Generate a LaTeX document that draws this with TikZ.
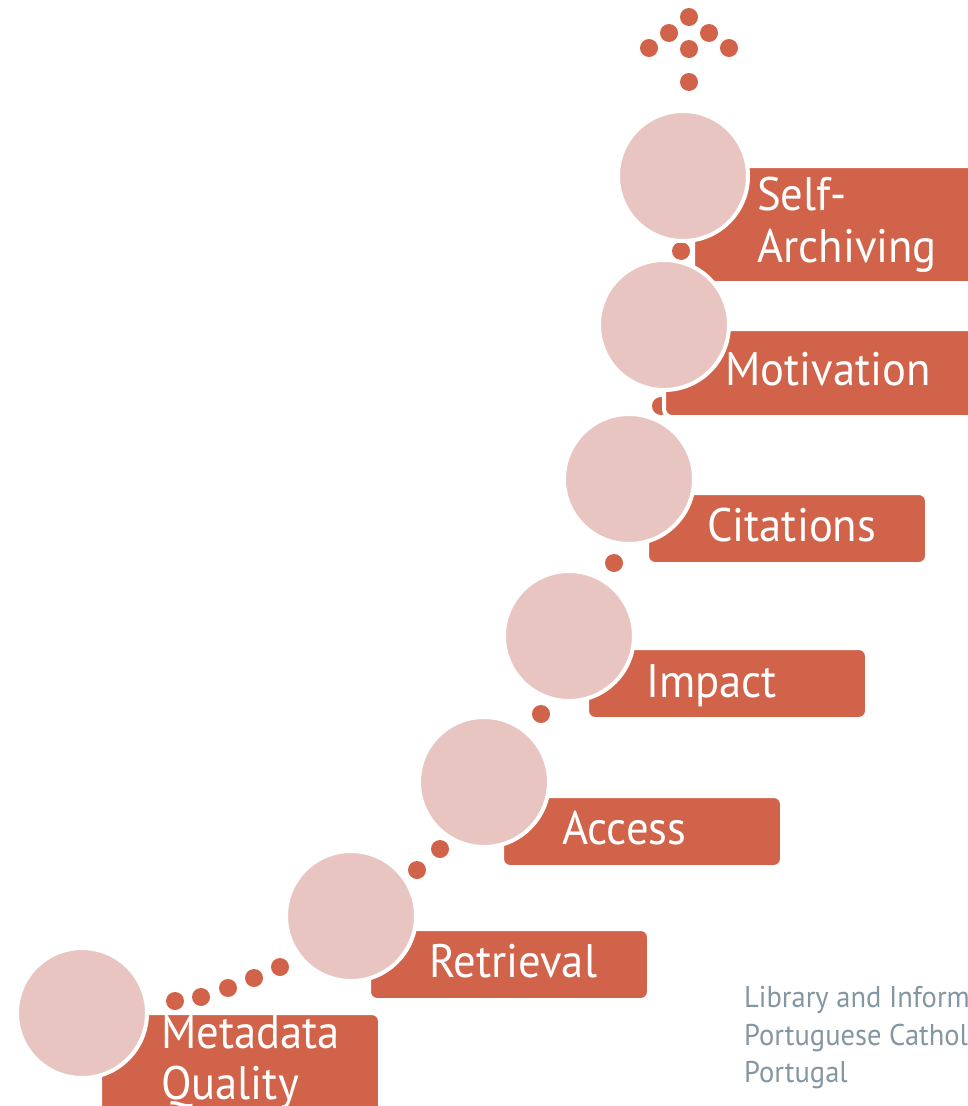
\documentclass[tikz,border=0pt]{standalone}
\usepackage{fontspec}
\setmainfont{PT Sans}[FakeStretch=0.95]
\definecolor{boxc}{RGB}{209,99,74}
\definecolor{circc}{RGB}{233,197,193}
\definecolor{grayt}{RGB}{132,150,162}
\begin{document}
\begin{tikzpicture}[x=1pt,y=-1pt,
 stepcirc/.style={circle,fill=circc,draw=white,line width=4pt,minimum size=130pt,inner sep=0pt},
 stepbox/.style={rectangle,rounded corners=8pt,fill=boxc,draw=white,line width=4pt,anchor=north west,inner sep=0pt},
 dotc/.style={circle,fill=boxc,minimum size=18pt,inner sep=0pt},
 lbl/.style={text=white,anchor=base west,inner sep=0pt,font=\fontsize{47}{51}\selectfont},
 note/.style={text=grayt,anchor=base west,inner sep=0pt,font=\fontsize{30}{38}\selectfont}]
\useasboundingbox (0,0) rectangle (968,1106);
\clip (0,0) rectangle (968,1106);
% arrow dots
\foreach \n/\x/\y in {a1/689/17,a2/669/33,a3/709/33,a4/649/48,a5/689/49,a6/729/48,a7/689/82}
  \node[dotc] (\n) at (\x,\y) {};
% step dots
\foreach \n/\x/\y in {d1/175/1001,d2/201/997,d3/228/988,d4/254/978,d5/280/967,
  d6/417/870,d7/440/849,d8/541/714,d9/614/563,d10/661/406,d11/681/251}
  \node[dotc] (\n) at (\x,\y) {};
% boxes
\node[stepbox,minimum width=320pt,minimum height=117pt] (bsa) at (691,164) {};
\node[stepbox,minimum width=340pt,minimum height=88pt] (bmo) at (662,327) {};
\node[stepbox,minimum width=280pt,minimum height=71pt] (bci) at (645,491) {};
\node[stepbox,minimum width=280pt,minimum height=71pt] (bim) at (585,646) {};
\node[stepbox,minimum width=280pt,minimum height=71pt] (bac) at (500,794) {};
\node[stepbox,minimum width=280pt,minimum height=71pt] (bre) at (367,927) {};
\node[stepbox,minimum width=280pt,minimum height=120pt] (bmq) at (98,1011) {};
% circles
\node[stepcirc] (csa) at (683,176) {};
\node[stepcirc] (cmo) at (664,325) {};
\node[stepcirc] (cci) at (629,479) {};
\node[stepcirc] (cim) at (569,636) {};
\node[stepcirc] (cac) at (484,782) {};
\node[stepcirc] (cre) at (351,916) {};
\node[stepcirc] (cmq) at (82,1013) {};
% labels
\node[lbl] (lsa1) at (757,210) {Self-};
\node[lbl] (lsa2) at (757,262) {Archiving};
\node[lbl] (lmo) at (725,385) {Motivation};
\node[lbl] (lci) at (707,541) {Citations};
\node[lbl] (lim) at (646,697) {Impact};
\node[lbl] (lac) at (562,844) {Access};
\node[lbl] (lre) at (429,977) {Retrieval};
\node[lbl] (lmq1) at (161,1048) {Metadata};
\node[lbl] (lmq2) at (161,1099) {Quality};
% note
\node[note] (n1) at (744,1007) {Library and Information Science};
\node[note] (n2) at (744,1045) {Portuguese Catholic University};
\node[note] (n3) at (744,1082) {Portugal};
\end{tikzpicture}
\end{document}
